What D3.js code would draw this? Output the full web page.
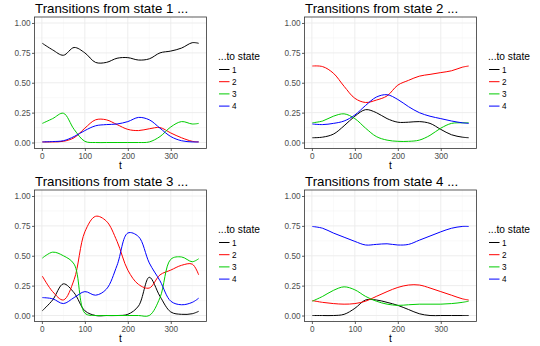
<!DOCTYPE html>
<html>
  <head>
    <meta charset="utf-8">
    <title>Transitions</title>
    <script src="https://cdn.jsdelivr.net/npm/d3@7"></script>
    <style>
      body { margin: 0; background: #fff; }
      svg { display: block; font-family: "Liberation Sans", Arial, sans-serif; }
      .grid-major { stroke: #ebebeb; stroke-width: 0.9; }
      .grid-minor { stroke: #f2f2f2; stroke-width: 0.5; }
      .tick-lab { fill: #4d4d4d; font-size: 8.2px; }
    </style>
  </head>

  <body>
    <svg id="chart" width="540" height="346"></svg>

    <script>
      // sample times (days)
      times = [1, 25, 50, 75, 100, 125, 150, 175, 200, 225, 250, 275, 300, 325, 350, 365];
      toStates = ["1", "2", "3", "4"];
      colours = ["#000000", "#ff0000", "#00cd00", "#0000ff"];
      xTicks = [0, 100, 200, 300];
      yTicks = [0, 0.25, 0.5, 0.75, 1];

      // from state 1
      from1to1 = [0.83, 0.775, 0.73, 0.795, 0.75, 0.67, 0.67, 0.705, 0.71, 0.69, 0.70, 0.75, 0.765, 0.79, 0.835, 0.83];
      from1to2 = [0.005, 0.005, 0.01, 0.04, 0.12, 0.19, 0.19, 0.15, 0.11, 0.10, 0.115, 0.125, 0.08, 0.04, 0.01, 0.005];
      from1to3 = [0.16, 0.20, 0.245, 0.11, 0.01, 0, 0, 0, 0, 0, 0.005, 0.05, 0.13, 0.175, 0.155, 0.16];
      from1to4 = [0.005, 0.008, 0.015, 0.05, 0.10, 0.14, 0.15, 0.155, 0.175, 0.21, 0.19, 0.12, 0.05, 0.015, 0.005, 0.005];

      // from state 2
      from2to1 = [0.04, 0.045, 0.07, 0.14, 0.22, 0.275, 0.25, 0.20, 0.17, 0.17, 0.175, 0.16, 0.11, 0.065, 0.045, 0.04];
      from2to2 = [0.64, 0.635, 0.58, 0.47, 0.37, 0.335, 0.355, 0.39, 0.48, 0.52, 0.555, 0.57, 0.585, 0.60, 0.63, 0.64];
      from2to3 = [0.165, 0.18, 0.22, 0.24, 0.20, 0.12, 0.05, 0.02, 0.01, 0.01, 0.02, 0.06, 0.12, 0.16, 0.165, 0.165];
      from2to4 = [0.155, 0.15, 0.16, 0.18, 0.23, 0.31, 0.38, 0.40, 0.36, 0.30, 0.25, 0.22, 0.20, 0.18, 0.165, 0.16];

      // from state 3
      from3to1 = [0.04, 0.13, 0.265, 0.19, 0.04, 0, 0, 0, 0.01, 0.08, 0.32, 0.16, 0.03, 0.01, 0.015, 0.035];
      from3to2 = [0.33, 0.20, 0.13, 0.30, 0.70, 0.83, 0.79, 0.62, 0.38, 0.26, 0.23, 0.34, 0.38, 0.42, 0.43, 0.34];
      from3to3 = [0.48, 0.53, 0.50, 0.43, 0.02, 0, 0, 0, 0, 0, 0, 0.15, 0.47, 0.49, 0.45, 0.475];
      from3to4 = [0.15, 0.14, 0.10, 0.15, 0.20, 0.17, 0.22, 0.42, 0.69, 0.66, 0.44, 0.29, 0.12, 0.09, 0.11, 0.145];

      // from state 4
      from4to1 = [0, 0, 0, 0.01, 0.06, 0.13, 0.13, 0.11, 0.085, 0.05, 0.015, 0, 0, 0, 0, 0];
      from4to2 = [0.125, 0.11, 0.10, 0.095, 0.10, 0.12, 0.16, 0.20, 0.235, 0.255, 0.255, 0.23, 0.20, 0.17, 0.14, 0.13];
      from4to3 = [0.12, 0.16, 0.21, 0.24, 0.215, 0.16, 0.12, 0.095, 0.085, 0.09, 0.095, 0.095, 0.095, 0.10, 0.11, 0.12];
      from4to4 = [0.745, 0.73, 0.69, 0.655, 0.62, 0.59, 0.595, 0.60, 0.59, 0.595, 0.63, 0.665, 0.70, 0.73, 0.745, 0.745];

      panels = [
        { from: "1", series: [from1to1, from1to2, from1to3, from1to4] },
        { from: "2", series: [from2to1, from2to2, from2to3, from2to4] },
        { from: "3", series: [from3to1, from3to2, from3to3, from3to4] },
        { from: "4", series: [from4to1, from4to2, from4to3, from4to4] }
      ];

      // panel geometry
      panelW = 270;
      panelH = 173;
      margin = { top: 17, right: 63.5, bottom: 24.5, left: 34.5 };

      chart = d3.select("#chart");

      x = d3.scaleLinear()
        .domain([1 - 0.05 * 364, 365 + 0.05 * 364])
        .range([margin.left, panelW - margin.right]);
      y = d3.scaleLinear()
        .domain([-0.05, 1.05])
        .range([panelH - margin.bottom, margin.top]);

      line = d3.line()
        .x(function(d, i) { return x(times[i]); })
        .y(function(d) { return y(d); })
        .curve(d3.curveCatmullRom.alpha(0.5));

      panels.forEach(function(p, k) {
        g = chart.append("g")
          .attr("transform", "translate(" + (k % 2) * panelW + "," + Math.floor(k / 2) * panelH + ")");

        // minor grid
        g.selectAll(".vminor").data([50, 150, 250, 350]).enter().append("line")
          .attr("class", "grid-minor")
          .attr("x1", function(d) { return x(d); }).attr("x2", function(d) { return x(d); })
          .attr("y1", y.range()[0]).attr("y2", y.range()[1]);
        g.selectAll(".hminor").data([0.125, 0.375, 0.625, 0.875]).enter().append("line")
          .attr("class", "grid-minor")
          .attr("x1", x.range()[0]).attr("x2", x.range()[1])
          .attr("y1", function(d) { return y(d); }).attr("y2", function(d) { return y(d); });

        // major grid
        g.selectAll(".vmajor").data(xTicks).enter().append("line")
          .attr("class", "grid-major")
          .attr("x1", function(d) { return x(d); }).attr("x2", function(d) { return x(d); })
          .attr("y1", y.range()[0]).attr("y2", y.range()[1]);
        g.selectAll(".hmajor").data(yTicks).enter().append("line")
          .attr("class", "grid-major")
          .attr("x1", x.range()[0]).attr("x2", x.range()[1])
          .attr("y1", function(d) { return y(d); }).attr("y2", function(d) { return y(d); });

        // lines
        g.selectAll(".series").data(p.series).enter().append("path")
          .attr("d", line)
          .attr("fill", "none")
          .attr("stroke", function(d, i) { return colours[i]; })
          .attr("stroke-width", 1);

        // border
        g.append("rect")
          .attr("x", x.range()[0]).attr("y", y.range()[1])
          .attr("width", x.range()[1] - x.range()[0])
          .attr("height", y.range()[0] - y.range()[1])
          .attr("fill", "none")
          .attr("stroke", "#333333")
          .attr("stroke-width", 0.8);

        // axes
        xAxis = d3.axisBottom(x).tickValues(xTicks).tickSize(2.5).tickPadding(2);
        yAxis = d3.axisLeft(y).tickValues(yTicks).tickSize(2.5).tickPadding(1.5).tickFormat(d3.format(".2f"));

        xg = g.append("g")
          .attr("transform", "translate(0," + y.range()[0] + ")")
          .call(xAxis);
        yg = g.append("g")
          .attr("transform", "translate(" + x.range()[0] + ",0)")
          .call(yAxis);
        [xg, yg].forEach(function(a) {
          a.select(".domain").remove();
          a.selectAll(".tick line").attr("stroke", "#333333").attr("stroke-width", 0.8);
          a.selectAll(".tick text")
            .attr("class", "tick-lab")
            .attr("font-family", null)
            .attr("font-size", null);
        });

        // title and axis label
        g.append("text")
          .attr("x", 35).attr("y", 13)
          .attr("font-size", "13.3px")
          .attr("fill", "#000")
          .text("Transitions from state " + p.from + " ...");
        g.append("text")
          .attr("x", (x.range()[0] + x.range()[1]) / 2).attr("y", 168.5)
          .attr("text-anchor", "middle")
          .attr("font-size", "10.2px")
          .text("t");

        // legend
        legend = g.append("g").attr("transform", "translate(218,0)");
        legend.append("text")
          .attr("x", 0).attr("y", 60)
          .attr("font-size", "10.2px")
          .text("...to state");
        rows = legend.selectAll(".key").data(toStates).enter().append("g")
          .attr("transform", function(d, i) { return "translate(0," + (69.5 + i * 12.2) + ")"; });
        rows.append("line")
          .attr("x1", 1).attr("x2", 11.5)
          .attr("stroke", function(d, i) { return colours[i]; })
          .attr("stroke-width", 1);
        rows.append("text")
          .attr("x", 14).attr("y", 3)
          .attr("font-size", "8.2px")
          .attr("fill", "#000")
          .text(function(d) { return d; });
      });
    </script>
  </body>
</html>
